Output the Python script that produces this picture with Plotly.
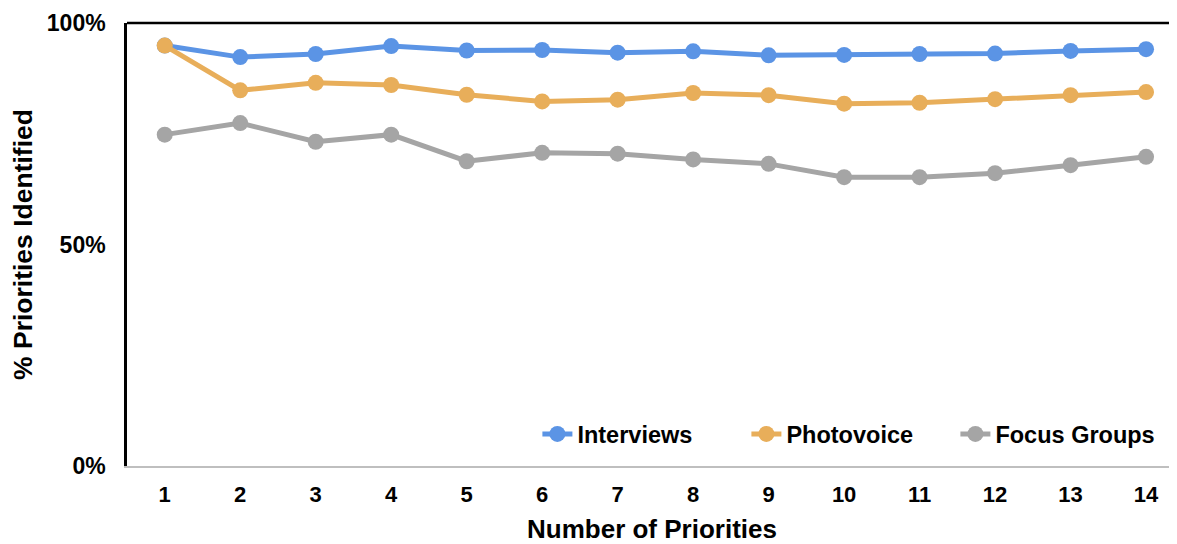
import plotly.graph_objects as go

priorities = list(range(1, 15))
interviews = [94.9, 92.3, 93.0, 94.8, 93.8, 93.9, 93.3, 93.6, 92.7, 92.8, 93.0, 93.1, 93.7, 94.1]
photovoice = [94.9, 84.8, 86.5, 86.0, 83.8, 82.3, 82.7, 84.2, 83.7, 81.8, 82.0, 82.8, 83.7, 84.4]
focus_groups = [74.8, 77.4, 73.2, 74.8, 68.8, 70.7, 70.5, 69.2, 68.2, 65.2, 65.2, 66.1, 67.9, 69.8]
y_ticks = [0, 50, 100]

FONT = "Liberation Sans, Arial, sans-serif"
series = [
    ("Interviews", interviews, "#5B94E5"),
    ("Photovoice", photovoice, "#E8AE5A"),
    ("Focus Groups", focus_groups, "#A5A5A5"),
]

fig = go.Figure()
for name, vals, col in series:
    fig.add_trace(go.Scatter(
        x=priorities, y=vals, name=name, mode="lines+markers",
        line=dict(color=col, width=5), marker=dict(color=col, size=16),
        cliponaxis=False,
    ))

# page body has an 8px margin, so the figure is sized/offset to compensate
fig.update_layout(
    width=1169, height=536,
    margin=dict(l=119, r=0, t=15, b=78),
    paper_bgcolor="white", plot_bgcolor="white",
    font=dict(family=FONT, color="black", size=22, weight="bold"),
    showlegend=True,
    legend=dict(orientation="h", x=0.988, xanchor="right", y=0.072, yanchor="middle",
                font=dict(size=23.5, weight="bold", family=FONT), bgcolor="rgba(0,0,0,0)",
                itemwidth=30, tracegroupgap=0, entrywidth=164, entrywidthmode="pixels"),
    shapes=[dict(type="line", xref="paper", yref="paper", x0=0, x1=1, y0=1, y1=1,
                 line=dict(color="black", width=2.5))],
)
fig.update_xaxes(
    range=[0.5, 14.41], tickmode="array", tickvals=priorities,
    ticktext=[str(p) for p in priorities],
    showgrid=False, zeroline=False, showline=True, linecolor="#BFBFBF", linewidth=2,
    ticks="", ticklabelstandoff=8, tickfont=dict(size=22, weight="bold"),
    title=dict(text="Number of Priorities", font=dict(size=26, weight="bold"), standoff=14),
)
fig.update_yaxes(
    range=[0, 100], tickmode="array", tickvals=y_ticks,
    ticktext=[f"{v}%" for v in y_ticks],
    showgrid=False, zeroline=False, showline=True, linecolor="black", linewidth=2.5,
    ticks="", ticklabelstandoff=14, tickfont=dict(size=23, weight="bold"),
    title=dict(text="% Priorities Identified", font=dict(size=26.5, weight="bold"), standoff=11),
)

fig.write_html("out.html")
